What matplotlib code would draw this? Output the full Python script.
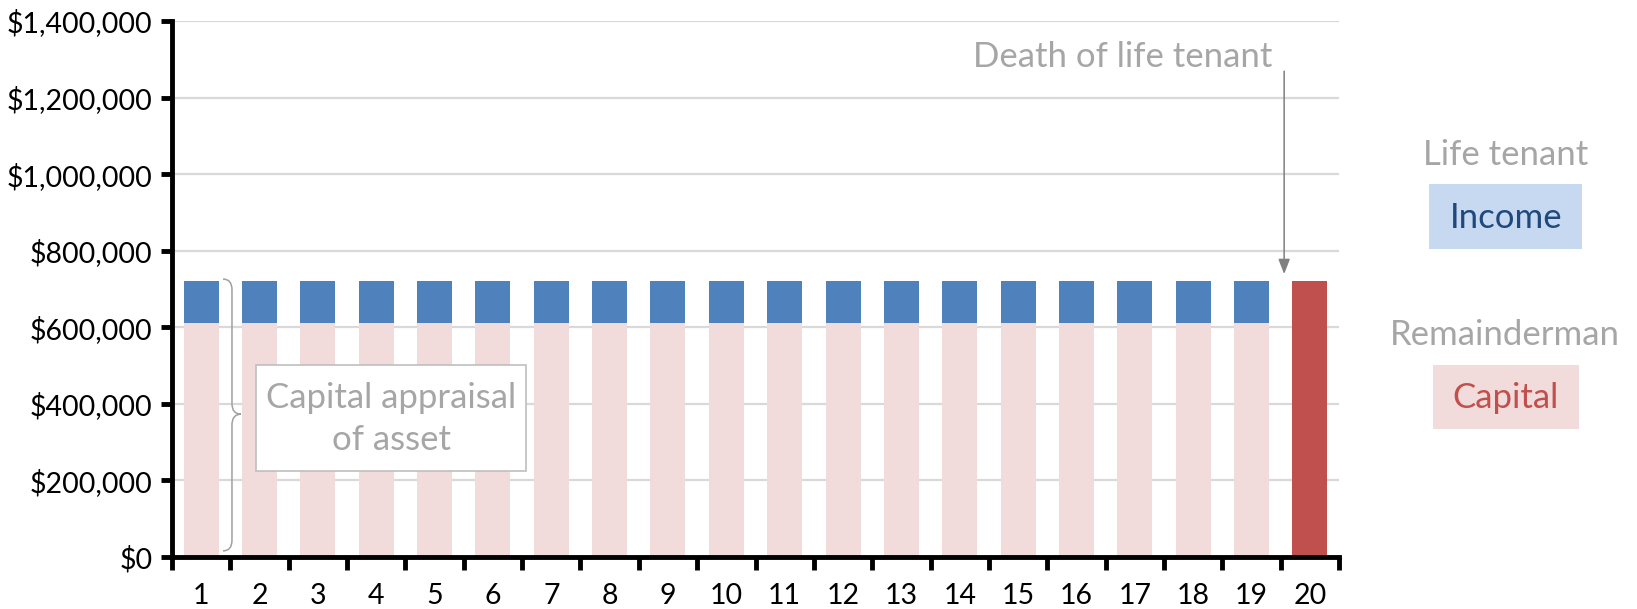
import matplotlib
matplotlib.use("Agg")
import matplotlib.pyplot as plt
from matplotlib.patches import Rectangle, PathPatch
from matplotlib.path import Path
from matplotlib.ticker import FuncFormatter

# ---- data ----
years = list(range(1, 21))
capital = [612000] * 19 + [0]          # remainderman's capital while tenant lives
income = [108000] * 19 + [0]           # life tenant's income slice
capital_at_death = [0] * 19 + [720000] # capital passes in year 20
y_ticks = [0, 200000, 400000, 600000, 800000, 1000000, 1200000, 1400000]

# ---- style ----
BLUE = "#4f81bd"
PINK = "#f2dcdb"
RED = "#c0504d"
GREY_TXT = "#a6a6a6"
GRID = "#d9d9d9"
FONT = ["Lato", "DejaVu Sans"]
plt.rcParams["font.family"] = FONT
TICK_FS = 20.5
NOTE_FS = 25

W, H = 1637, 609
fig = plt.figure(figsize=(W / 100, H / 100), dpi=100)
ax = fig.add_axes([172 / W, 1 - 557 / H, (1339 - 172) / W, (557 - 21) / H])

bar_w = 0.6
ax.bar(years, capital, width=bar_w, color=PINK, zorder=2)
ax.bar(years, income, width=bar_w, bottom=capital, color=BLUE, zorder=2)
ax.bar(years, capital_at_death, width=bar_w, color=RED, zorder=2)

ax.set_xlim(0.5, 20.5)
ax.set_ylim(0, 1400000)
ax.set_yticks(y_ticks)
ax.yaxis.set_major_formatter(FuncFormatter(lambda v, p: f"${v:,.0f}"))
ax.yaxis.grid(True, color=GRID, linewidth=1.6, zorder=0)
ax.set_axisbelow(True)

# category labels in the middle, tick marks on the boundaries
ax.set_xticks(years)
ax.set_xticklabels([str(y) for y in years])
ax.set_xticks([y + 0.5 for y in [0] + years], minor=True)
ax.tick_params(axis="x", which="major", length=0, pad=19, labelsize=TICK_FS)
ax.tick_params(axis="x", which="minor", length=9, width=3.5, direction="out")
ax.tick_params(axis="y", which="major", length=8, width=3.5, pad=6, labelsize=TICK_FS)

for s in ["top", "right"]:
    ax.spines[s].set_visible(False)
for s in ["left", "bottom"]:
    ax.spines[s].set_linewidth(3.5)
    ax.spines[s].set_zorder(5)

# curly brace spanning the capital value of the asset
x0, x1, x2 = 1.374, 1.528, 1.682
ytop, ymid, ybot = 726000, 373000, 16000
r = 28000
verts = [(x0, ytop), (x1, ytop), (x1, ytop - r),
         (x1, ymid + r), (x1, ymid), (x2, ymid),
         (x1, ymid), (x1, ymid - r),
         (x1, ybot + r), (x1, ybot), (x0, ybot)]
codes = [Path.MOVETO, Path.CURVE3, Path.CURVE3,
         Path.LINETO, Path.CURVE3, Path.CURVE3,
         Path.CURVE3, Path.CURVE3,
         Path.LINETO, Path.CURVE3, Path.CURVE3]
ax.add_patch(PathPatch(Path(verts, codes), facecolor="none",
                       edgecolor="#a0a0a0", linewidth=1.1, zorder=4))

# text box next to the brace
bx0, by0, bx1, by1 = 256, 365, 526, 471
fig.patches.append(Rectangle((bx0 / W, 1 - by1 / H), (bx1 - bx0) / W, (by1 - by0) / H,
                             transform=fig.transFigure, facecolor="white",
                             edgecolor="#bfbfbf", linewidth=1.2, zorder=6))
fig.text((bx0 + bx1) / 2 / W, 1 - 419 / H, "Capital appraisal\nof asset",
         ha="center", va="center", color=GREY_TXT, fontsize=NOTE_FS,
         linespacing=1.38, zorder=7)

# death of the life tenant
ax.annotate("", xy=(19.56, 739000), xytext=(19.56, 1269000),
            arrowprops=dict(arrowstyle="-|>,head_length=0.9,head_width=0.35",
                            color="#808080", linewidth=1.1, shrinkA=0, shrinkB=0),
            zorder=6)
ax.text(19.35, 1305000, "Death of life tenant", ha="right", va="center",
        color=GREY_TXT, fontsize=NOTE_FS)

# legend-style labels on the right
fig.text(1506 / W, 1 - 155 / H, "Life tenant", ha="center", va="center",
         color=GREY_TXT, fontsize=NOTE_FS)
fig.patches.append(Rectangle((1429 / W, 1 - 249 / H), (1582 - 1429) / W, (249 - 184) / H,
                             transform=fig.transFigure, facecolor="#c6d9f0",
                             edgecolor="none"))
fig.text(1506 / W, 1 - 218 / H, "Income", ha="center", va="center",
         color="#1f497d", fontsize=NOTE_FS)

fig.text(1505 / W, 1 - 335 / H, "Remainderman", ha="center", va="center",
         color=GREY_TXT, fontsize=NOTE_FS)
fig.patches.append(Rectangle((1433 / W, 1 - 429 / H), (1579 - 1433) / W, (429 - 365) / H,
                             transform=fig.transFigure, facecolor=PINK,
                             edgecolor="none"))
fig.text(1506 / W, 1 - 398 / H, "Capital", ha="center", va="center",
         color=RED, fontsize=NOTE_FS)

fig.savefig("out.png", dpi=100)
